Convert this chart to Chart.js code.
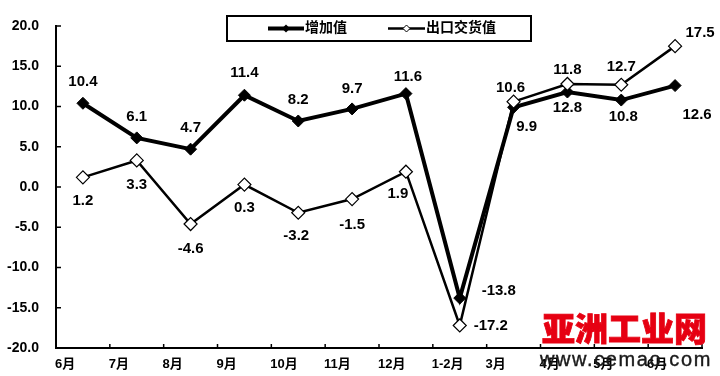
<!DOCTYPE html>
<html lang="zh">
<head>
    <meta charset="UTF-8">
    <title>增加值与出口交货值</title>
    <script src="https://cdn.jsdelivr.net/npm/chart.js"></script>
    <style>
        html, body { margin: 0; padding: 0; background: #fff; }
        #wrap { position: relative; width: 720px; height: 376px; }
        #wm1 {
            position: absolute; left: 542px; top: 311px;
            font-family: "Noto Sans CJK SC", sans-serif; font-weight: 900;
            font-size: 33px; line-height: 33px; color: #e60012; white-space: nowrap;
            -webkit-text-stroke: 0.8px #e60012;
        }
        #wm2 {
            position: absolute; left: 540px; top: 349px;
            font-family: "Liberation Sans", Arial, sans-serif;
            font-size: 20px; line-height: 20px; letter-spacing: 1.6px; color: #1a1a1a; white-space: nowrap;
            -webkit-text-stroke: 0.4px #1a1a1a;
        }
    </style>
</head>
<body>
<div id="wrap">
    <canvas id="chart" width="720" height="376"></canvas>
    <div id="wm1">亚洲工业网</div>
    <div id="wm2">www.cemao.com</div>
</div>
<script>
    const months = ['6月', '7月', '8月', '9月', '10月', '11月', '12月', '1-2月', '3月', '4月', '5月', '6月'];
    const addedValue = [10.4, 6.1, 4.7, 11.4, 8.2, 9.7, 11.6, -13.8, 9.9, 11.8, 10.8, 12.6];
    const exportValue = [1.2, 3.3, -4.6, 0.3, -3.2, -1.5, 1.9, -17.2, 10.6, 12.8, 12.7, 17.5];
    // text shown next to each point, as printed on the original
    const addedLabels = ['10.4', '6.1', '4.7', '11.4', '8.2', '9.7', '11.6', '-13.8', '9.9', '11.8', '10.8', '12.6'];
    const exportLabels = ['1.2', '3.3', '-4.6', '0.3', '-3.2', '-1.5', '1.9', '-17.2', '10.6', '12.8', '12.7', '17.5'];

    const FONT = '"Liberation Sans", Arial, "Noto Sans CJK SC", sans-serif';

    // label offsets (dx, dy) from each point
    const labelOffsets = [
        [[0, -21], [0, -21], [0, -21], [0, -22], [0, -21], [0, -20], [2, -17], [39, -7], [13, 20], [0, -22], [2, 17], [22, 29]],
        [[0, 24], [0, 24], [0, 25], [0, 23], [-2, 23], [0, 26], [-8, 22], [31, 0], [-3, -14], [0, 24], [0, -18], [25, -13]]
    ];

    const pointLabels = {
        id: 'pointLabels',
        afterDatasetsDraw(chart) {
            const ctx = chart.ctx;
            ctx.save();
            ctx.font = 'bold 15px ' + FONT;
            ctx.fillStyle = '#000';
            ctx.textAlign = 'center';
            ctx.textBaseline = 'middle';
            chart.data.datasets.forEach((ds, di) => {
                const meta = chart.getDatasetMeta(di);
                meta.data.forEach((pt, i) => {
                    const off = labelOffsets[di][i];
                    ctx.fillText(ds.pointText[i], pt.x + off[0], pt.y + off[1]);
                });
            });
            ctx.restore();
        }
    };

    // inward tick marks and the boxed legend
    const decorations = {
        id: 'decorations',
        afterDraw(chart) {
            const ctx = chart.ctx;
            const area = chart.chartArea;
            const xs = chart.scales.x, ys = chart.scales.y;
            ctx.save();
            ctx.strokeStyle = '#000';
            ctx.lineWidth = 1.5;
            ys.ticks.forEach(t => {
                const y = ys.getPixelForValue(t.value);
                ctx.beginPath();
                ctx.moveTo(area.left, y);
                ctx.lineTo(area.left + 5, y);
                ctx.stroke();
            });
            const n = months.length;
            for (let i = 1; i <= n; i++) {
                const x = i < n
                    ? (xs.getPixelForValue(i - 1) + xs.getPixelForValue(i)) / 2
                    : area.right;
                ctx.beginPath();
                ctx.moveTo(x, area.bottom);
                ctx.lineTo(x, area.bottom - 4);
                ctx.stroke();
            }

            // legend box
            ctx.lineWidth = 2;
            ctx.strokeRect(227, 16, 304, 25);
            const cy = 28.5;
            ctx.font = 'bold 14px ' + FONT;
            ctx.textBaseline = 'middle';
            ctx.fillStyle = '#000';

            ctx.lineWidth = 4;
            ctx.beginPath(); ctx.moveTo(268, cy); ctx.lineTo(304, cy); ctx.stroke();
            ctx.beginPath();
            ctx.moveTo(286, cy - 4); ctx.lineTo(290, cy); ctx.lineTo(286, cy + 4); ctx.lineTo(282, cy);
            ctx.closePath(); ctx.fill();
            ctx.fillText('增加值', 305, cy);

            ctx.lineWidth = 2.5;
            ctx.beginPath(); ctx.moveTo(388, cy); ctx.lineTo(425, cy); ctx.stroke();
            ctx.lineWidth = 1;
            ctx.fillStyle = '#fff';
            ctx.beginPath();
            ctx.moveTo(406.5, cy - 3.5); ctx.lineTo(410, cy); ctx.lineTo(406.5, cy + 3.5); ctx.lineTo(403, cy);
            ctx.closePath(); ctx.fill(); ctx.stroke();
            ctx.fillStyle = '#000';
            ctx.fillText('出口交货值', 426, cy);
            ctx.restore();
        }
    };

    const ctx = document.getElementById('chart').getContext('2d');

    const chart = new Chart(ctx, {
        type: 'line',
        data: {
            labels: months,
            datasets: [
                {
                    label: '增加值',
                    data: addedValue,
                    pointText: addedLabels,
                    borderColor: '#000',
                    borderWidth: 4,
                    pointStyle: 'rectRot',
                    pointRadius: 6,
                    pointBackgroundColor: '#000',
                    pointBorderColor: '#000',
                    pointBorderWidth: 1,
                    tension: 0,
                    order: 2
                },
                {
                    label: '出口交货值',
                    data: exportValue,
                    pointText: exportLabels,
                    borderColor: '#000',
                    borderWidth: 2.5,
                    pointStyle: 'rectRot',
                    pointRadius: 6.5,
                    pointBackgroundColor: '#fff',
                    pointBorderColor: '#000',
                    pointBorderWidth: 1.2,
                    tension: 0,
                    order: 1
                }
            ]
        },
        options: {
            responsive: false,
            animation: false,
            layout: { padding: { top: 26, right: 18, left: 0, bottom: 0 } },
            plugins: {
                legend: { display: false },
                tooltip: { enabled: false }
            },
            scales: {
                x: {
                    offset: true,
                    grid: { display: false, drawTicks: false, offset: true },
                    border: { display: true, color: '#000', width: 2 },
                    afterFit(scale) { scale.height = 28; },
                    ticks: {
                        color: '#000',
                        font: { family: FONT, size: 13, weight: 'bold' },
                        padding: 9,
                        align: 'start',
                        labelOffset: -28,
                        maxRotation: 0,
                        autoSkip: false
                    }
                },
                y: {
                    min: -20,
                    max: 20,
                    grid: { display: false, drawTicks: false },
                    border: { display: true, color: '#000', width: 2 },
                    afterFit(scale) { scale.width = 56; },
                    ticks: {
                        stepSize: 5,
                        color: '#000',
                        padding: 17,
                        font: { family: FONT, size: 14, weight: 'bold' },
                        callback: v => v.toFixed(1)
                    }
                }
            }
        },
        plugins: [pointLabels, decorations]
    });
</script>
</body>
</html>
